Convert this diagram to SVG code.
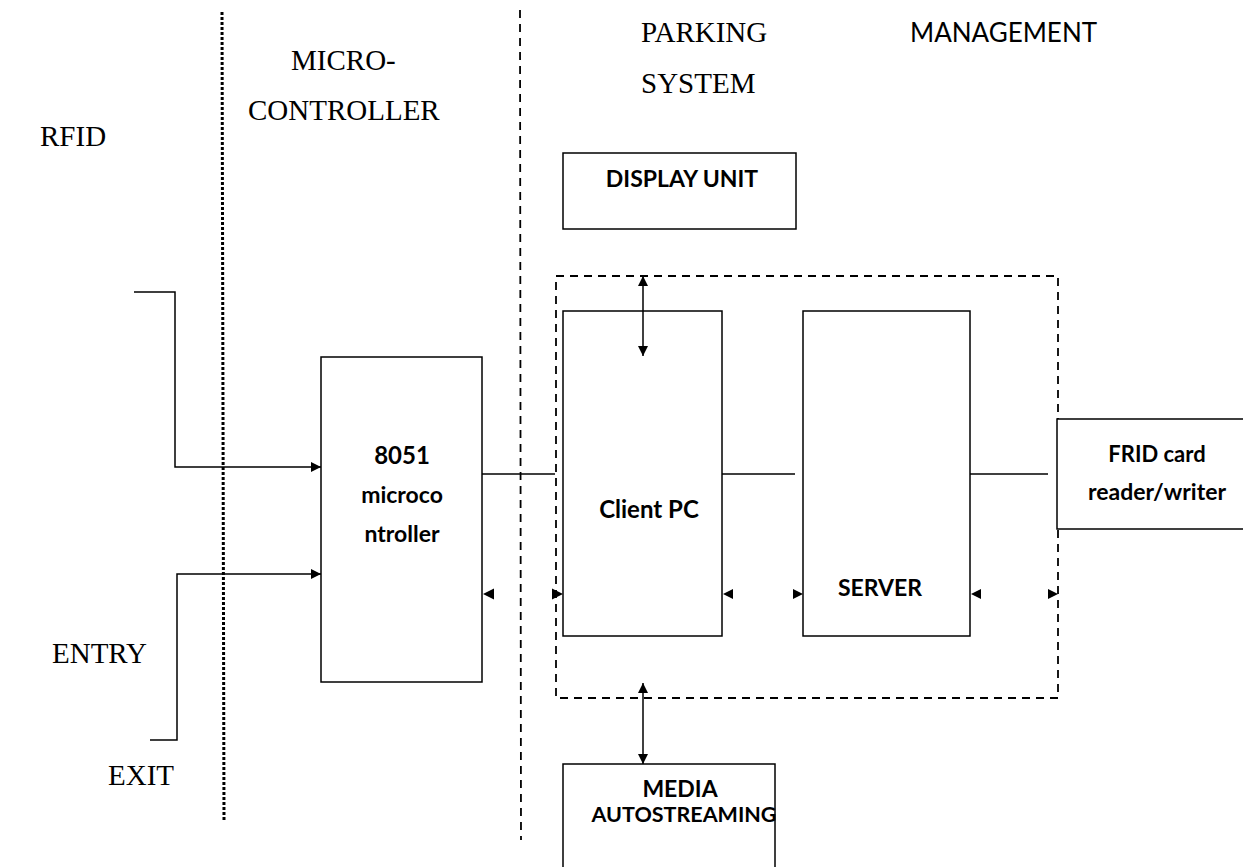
<svg xmlns="http://www.w3.org/2000/svg" width="1243" height="867" viewBox="0 0 1243 867">
  <style>
    .serif { font-family: "Liberation Serif", "Times New Roman", serif; font-size: 29px; fill: #000; }
    .sans { font-family: Lato, "Open Sans", "Liberation Sans", sans-serif; fill: #000; }
    .lbl { font-family: Lato, "Open Sans", "Liberation Sans", sans-serif; font-weight: bold; fill: #000; text-anchor: middle; }
    .box { fill: #fff; stroke: #000; stroke-width: 1.5; }
    .wire { fill: none; stroke: #000; stroke-width: 1.5; }
    .head { fill: #000; stroke: none; }
  </style>
  <defs>
    <marker id="tip" viewBox="0 0 10 10" refX="10" refY="5" markerWidth="11" markerHeight="10" markerUnits="userSpaceOnUse" orient="auto">
      <path d="M0,0 L10,5 L0,10 z" fill="#000"/>
    </marker>
    <marker id="tipStart" viewBox="0 0 10 10" refX="10" refY="5" markerWidth="11" markerHeight="10" markerUnits="userSpaceOnUse" orient="auto-start-reverse">
      <path d="M0,0 L10,5 L0,10 z" fill="#000"/>
    </marker>
  </defs>

  <!-- zone separators -->
  <g id="separators">
    <line x1="222" y1="12" x2="224" y2="820" stroke="#000" stroke-width="3" stroke-dasharray="3,2"/>
    <line x1="520" y1="10" x2="521" y2="840" stroke="#000" stroke-width="1.8" stroke-dasharray="8,6"/>
  </g>

  <!-- zone and side labels -->
  <g id="labels">
    <text class="serif" x="291" y="70">MICRO-</text>
    <text class="serif" x="248" y="120">CONTROLLER</text>
    <text class="serif" x="40" y="146">RFID</text>
    <text class="serif" x="641" y="42">PARKING</text>
    <text class="serif" x="641" y="93">SYSTEM</text>
    <text class="sans" x="910" y="42" font-size="26">MANAGEMENT</text>
    <text class="serif" x="52" y="663" font-size="31">ENTRY</text>
    <text class="serif" x="108" y="785">EXIT</text>
  </g>

  <!-- management system boundary -->
  <g id="system-boundary">
    <rect x="556" y="276" width="502" height="422" fill="none" stroke="#000" stroke-width="1.8" stroke-dasharray="8,6"/>
  </g>

  <g id="display-unit">
    <rect class="box" x="563" y="153" width="233" height="76"/>
    <text class="lbl" x="682" y="187" font-size="23">DISPLAY UNIT</text>
  </g>

  <g id="microcontroller">
    <rect class="box" x="321" y="357" width="161" height="325"/>
    <text class="lbl" x="402" y="464" font-size="24">8051</text>
    <text class="lbl" x="402" y="503" font-size="23">microco</text>
    <text class="lbl" x="402" y="542" font-size="23">ntroller</text>
  </g>

  <g id="client-pc">
    <rect class="box" x="563" y="311" width="159" height="325"/>
    <text class="lbl" x="649" y="518" font-size="24">Client PC</text>
  </g>

  <g id="server">
    <rect class="box" x="803" y="311" width="167" height="325"/>
    <text class="lbl" x="880" y="596" font-size="23">SERVER</text>
  </g>

  <g id="card-reader">
    <rect class="box" x="1057" y="419" width="190" height="110"/>
    <text class="lbl" x="1157" y="462" font-size="22">FRID card</text>
    <text class="lbl" x="1157" y="500" font-size="23">reader/writer</text>
  </g>

  <g id="media-autostreaming">
    <rect class="box" x="563" y="764" width="212" height="110"/>
    <text class="lbl" x="680" y="797" font-size="23">MEDIA</text>
    <text class="lbl" x="684" y="822" font-size="21.5">AUTOSTREAMING</text>
  </g>

  <!-- connectors -->
  <g id="connectors">
    <path class="wire" d="M134,292 H175 V467 H321" marker-end="url(#tip)"/>
    <path class="wire" d="M150,740 H177 V574 H321" marker-end="url(#tip)"/>
    <path class="wire" d="M482,474 H555"/>
    <path class="wire" d="M722,474 H795"/>
    <path class="wire" d="M970,474 H1048"/>
    <path class="wire" d="M643,276 V356" marker-start="url(#tipStart)" marker-end="url(#tip)"/>
    <path class="wire" d="M643,683 V764" marker-start="url(#tipStart)" marker-end="url(#tip)"/>
    <!-- bare return arrowheads along the bus -->
    <path class="head" d="M483,594 L494,588.5 L494,599.5 z"/>
    <path class="head" d="M563,594 L552,588.5 L552,599.5 z"/>
    <path class="head" d="M723,594 L733,589 L733,599 z"/>
    <path class="head" d="M803,594 L793,589 L793,599 z"/>
    <path class="head" d="M971,594 L981,589 L981,599 z"/>
    <path class="head" d="M1058,594 L1048,589 L1048,599 z"/>
  </g>
</svg>
